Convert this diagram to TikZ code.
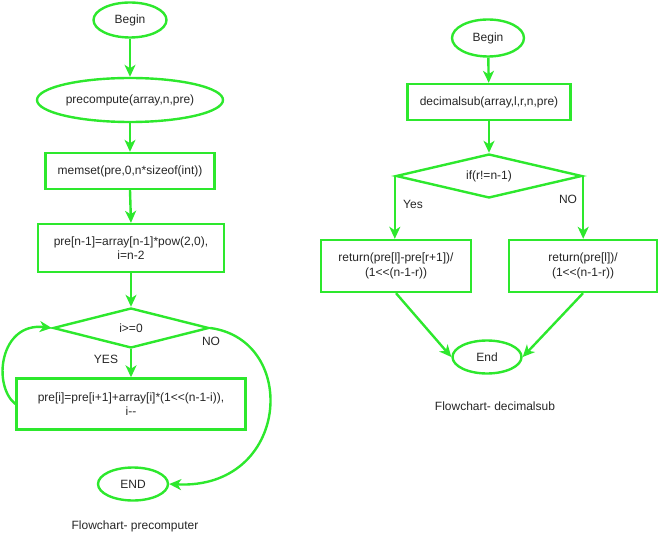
\documentclass[tikz,border=0pt]{standalone}
\usepackage{fontspec}
\setmainfont{Liberation Sans}
\usetikzlibrary{shapes.geometric,arrows.meta}
\definecolor{flowgreen}{RGB}{45,232,45}
\begin{document}
\begin{tikzpicture}[
x=1pt,y=-1pt,
every node/.style={font=\fontsize{12}{14.5}\selectfont,text=black!85},
term/.style={ellipse,draw=flowgreen,line width=2.4pt,inner sep=0pt},
proc/.style={rectangle,draw=flowgreen,line width=2.4pt,align=center,inner sep=0pt},
cond/.style={diamond,draw=flowgreen,line width=2.4pt,inner sep=0pt,aspect=3.9},
arr/.style={draw=flowgreen,line width=2.4pt,-{Stealth[length=12pt,width=11pt,inset=3.5pt]}},
caption/.style={font=\fontsize{12}{14}\selectfont},
]
\useasboundingbox(0,0)rectangle(660,534);
%precompute
\node[term,minimum width=73pt,minimum height=35pt](begin1)at(130,20){Begin};
\node[term,minimum width=186pt,minimum height=44pt](pre1)at(130,100){precompute(array,n,pre)};
\node[proc,minimum width=169pt,minimum height=36pt](mem)at(130,171){memset(pre,0,n*sizeof(int))};
\node[proc,minimum width=186pt,minimum height=48pt](init)at(131,248){pre[n-1]=array[n-1]*pow(2,0),\\i=n-2};
\node[cond,minimum width=156pt,minimum height=40pt](cond1)at(131,328){i>=0};
\node[proc,minimum width=229pt,minimum height=51pt](loop)at(131,404){pre[i]=pre[i+1]+array[i]*(1<{}<(n-1-i)),\\i-{}-};
\node[term,minimum width=70pt,minimum height=33pt](end1)at(133,484){END};
\node(yes1)at(106,359){YES};
\node(no1)at(211,341){NO};
\node[caption](cap1)at(135,526){Flowchart- precomputer};

\draw[arr](begin1)--(pre1);
\draw[arr](pre1)--(mem);
\draw[arr](mem.south)--(init.north);
\draw[arr](init)--(cond1);
\draw[arr](cond1)--(loop);
\draw[arr](loop.west) .. controls (-8,385) and (0,322) .. (cond1.west);
\draw[arr](cond1.east) .. controls (300,340) and (290,490) .. (end1.east);

%decimalsub
\node[term,minimum width=72pt,minimum height=37pt](begin2)at(488,38){Begin};
\node[proc,minimum width=163pt,minimum height=36pt](dec)at(489,102){decimalsub(array,l,r,n,pre)};
\node[cond,minimum width=186pt,minimum height=44pt](cond2)at(489,176){if(r!=n-1)};
\node[proc,minimum width=150pt,minimum height=52pt](ret1)at(396,266){return(pre[l]-pre[r+1])/\\(1<{}<(n-1-r))};
\node[proc,minimum width=148pt,minimum height=52pt](ret2)at(583,266){return(pre[l])/\\(1<{}<(n-1-r))};
\node[term,minimum width=69pt,minimum height=33pt](end2)at(487,357){End};
\node(yes2)at(413,204){Yes};
\node(no2)at(568,199){NO};
\node[caption](cap2)at(495,406){Flowchart- decimalsub};

\draw[arr](begin2)--(dec);
\draw[arr](dec)--(cond2);
\draw[arr](cond2.west)--(cond2.west|-ret1.north);
\draw[arr](cond2.east)--(cond2.east|-ret2.north);
\draw[arr](ret1.south)--(end2.west);
\draw[arr](ret2.south)--(end2.east);

\end{tikzpicture}
\end{document}
